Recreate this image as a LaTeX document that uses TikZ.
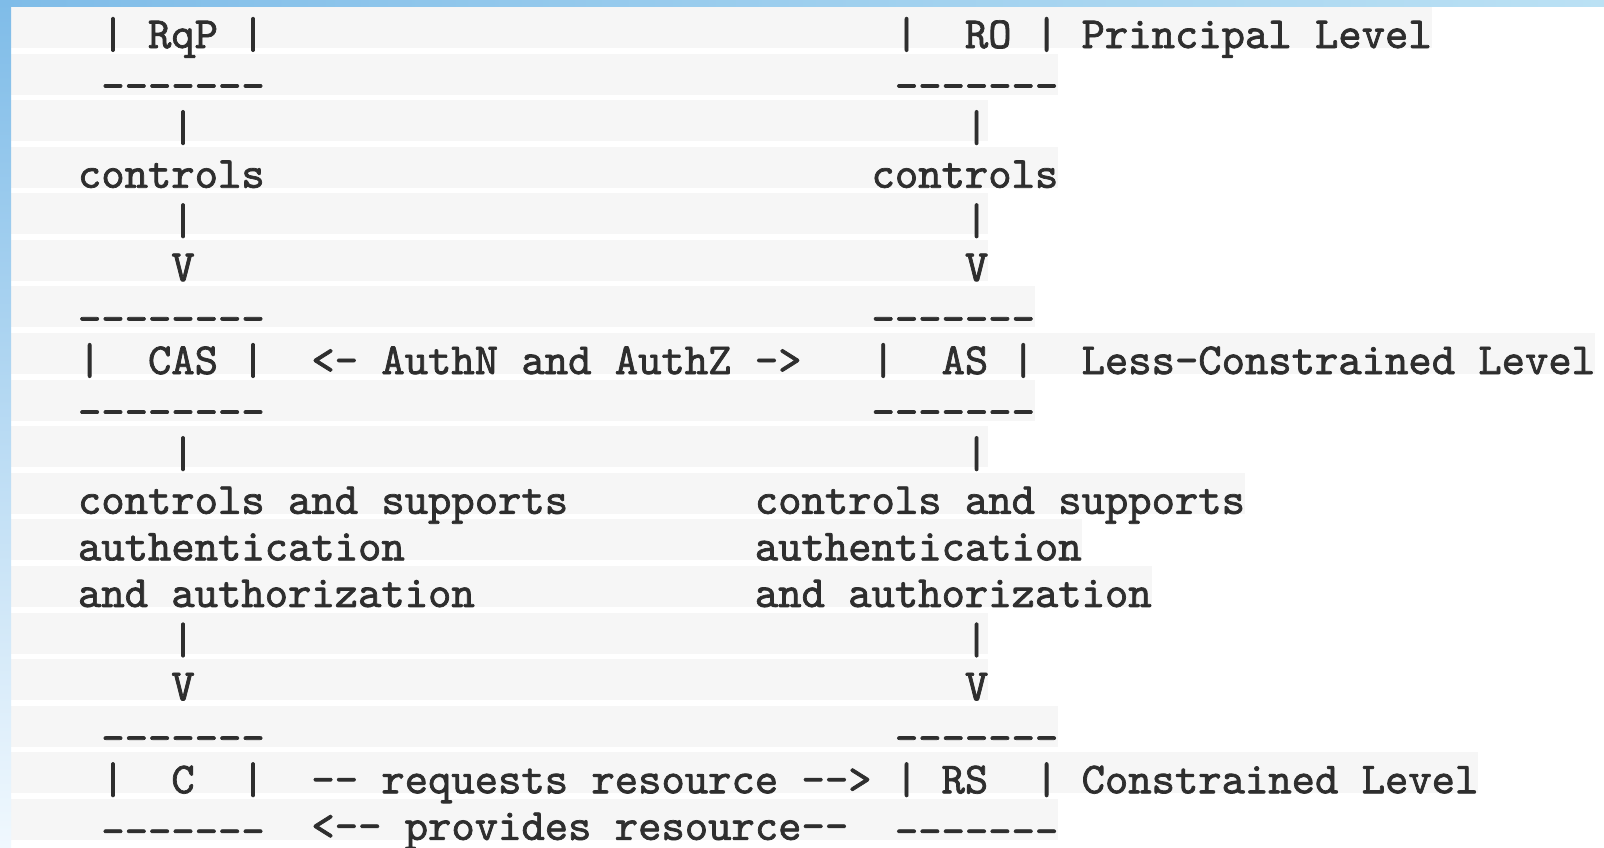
\documentclass[tikz,border=0pt]{standalone}
\definecolor{stripc}{HTML}{F6F6F6}
\definecolor{txt}{HTML}{2E2E2E}
\definecolor{barA}{HTML}{7FBCE8}
\definecolor{barB}{HTML}{BBE1F4}
\definecolor{barM}{HTML}{CCE7F7}
\definecolor{barC}{HTML}{F0F8FE}
\newcommand\hy{-\kern0pt}
\newlength\ttw
\font\probefnt="[lmmono10-regular]:embolden=1.6" at 40pt
\settowidth\ttw{\probefnt 0}
\pgfmathsetmacro\fsz{40*23.34/\ttw}
\font\ascfnt="[lmmono10-regular]:embolden=1.6" at \fsz pt
\newcommand\ascfont{\ascfnt}
\tikzset{
  tok/.style={anchor=base west, inner sep=0pt, outer sep=0pt, text=txt, font=\ascfont},
  dsh/.style={tok, yshift=-5pt},
  strip/.style={fill=stripc}
}
\newcommand\Tok[4]{\node[tok] (#1) at ({78+23.34*(#2)},{48+46.58*(#3)}) {#4};}
\newcommand\Dsh[4]{\node[dsh] (#1) at ({78+23.34*(#2)},{48+46.58*(#3)}) {#4};}
\newcommand\Strip[2]{\fill[strip] (11,{46+46.58*(#1)-39}) rectangle ({78+23.34*(#2)},{46+46.58*(#1)+2});}
\begin{document}
\begin{tikzpicture}[x=1pt,y=-1pt]
\useasboundingbox (0,0) rectangle (1604,847);
\fill[white] (0,0) rectangle (1604,847);
% strips
\foreach \l/\e in {0/58,1/42,2/39,3/42,4/39,5/39,6/41,7/65,8/41,9/39,10/50,11/43,12/46,13/39,14/39,15/42,16/60,17/42}{\Strip{\l}{\e}}
% frame bars
\shade[top color=barA, middle color=barM, bottom color=barC] (0,0) rectangle (11,847);
\shade[left color=barA, right color=barB] (0,0) rectangle (1604,6);
% line 0
\Tok{rqpL}{1}{0}{|}\Tok{rqp}{3}{0}{RqP}\Tok{rqpR}{7}{0}{|}
\Tok{roL}{35}{0}{|}\Tok{ro}{38}{0}{RO}\Tok{roR}{41}{0}{|}\Tok{lvP}{43}{0}{Principal Level}
% line 1
\Dsh{rqpB}{1}{1}{\hy\hy\hy\hy\hy\hy-}\Dsh{roB}{35}{1}{\hy\hy\hy\hy\hy\hy-}
% line 2
\Tok{vA2}{4}{2}{|}\Tok{vB2}{38}{2}{|}
% line 3
\Tok{ctlA}{0}{3}{controls}\Tok{ctlB}{34}{3}{controls}
% line 4
\Tok{vA4}{4}{4}{|}\Tok{vB4}{38}{4}{|}
% line 5
\Tok{arA5}{4}{5}{V}\Tok{arB5}{38}{5}{V}
% line 6
\Dsh{casT}{0}{6}{\hy\hy\hy\hy\hy\hy\hy-}\Dsh{asT}{34}{6}{\hy\hy\hy\hy\hy\hy-}
% line 7
\Tok{casL}{0}{7}{|}\Tok{cas}{3}{7}{CAS}\Tok{casR}{7}{7}{|}
\Tok{authn}{10}{7}{<- AuthN and AuthZ ->}
\Tok{asL}{34}{7}{|}\Tok{as}{37}{7}{AS}\Tok{asR}{40}{7}{|}\Tok{lvL}{43}{7}{Less-Constrained Level}
% line 8
\Dsh{casB}{0}{8}{\hy\hy\hy\hy\hy\hy\hy-}\Dsh{asB}{34}{8}{\hy\hy\hy\hy\hy\hy-}
% line 9
\Tok{vA9}{4}{9}{|}\Tok{vB9}{38}{9}{|}
% lines 10-12
\Tok{supA}{0}{10}{controls and supports}\Tok{supB}{29}{10}{controls and supports}
\Tok{autA}{0}{11}{authentication}\Tok{autB}{29}{11}{authentication}
\Tok{azA}{0}{12}{and authorization}\Tok{azB}{29}{12}{and authorization}
% line 13
\Tok{vA13}{4}{13}{|}\Tok{vB13}{38}{13}{|}
% line 14
\Tok{arA14}{4}{14}{V}\Tok{arB14}{38}{14}{V}
% line 15
\Dsh{cT}{1}{15}{\hy\hy\hy\hy\hy\hy-}\Dsh{rsT}{35}{15}{\hy\hy\hy\hy\hy\hy-}
% line 16
\Tok{cL}{1}{16}{|}\Tok{c}{4}{16}{C}\Tok{cR}{7}{16}{|}
\Tok{req}{10}{16}{\hy- requests resource \hy\hy>}
\Tok{rsL}{35}{16}{|}\Tok{rs}{37}{16}{RS}\Tok{rsR}{41}{16}{|}\Tok{lvC}{43}{16}{Constrained Level}
% line 17
\Dsh{cB}{1}{17}{\hy\hy\hy\hy\hy\hy-}
\Tok{prov}{10}{17}{<\hy- provides resource\hy-}
\Dsh{rsB}{35}{17}{\hy\hy\hy\hy\hy\hy-}
\end{tikzpicture}
\end{document}
